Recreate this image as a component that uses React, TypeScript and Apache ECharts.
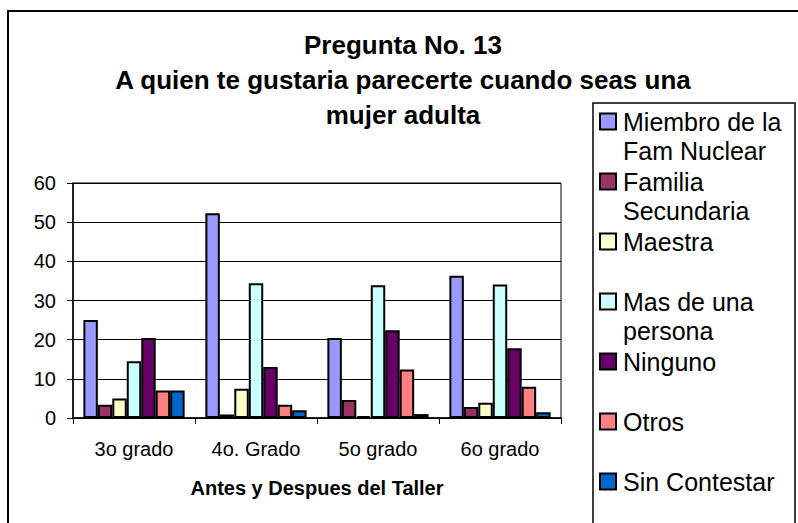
import React, { useEffect, useRef } from "react";
import * as echarts from "echarts";

const categories = ["3o grado", "4o. Grado", "5o grado", "6o grado"];
const seriesNames = [
  "Miembro de la\nFam Nuclear",
  "Familia\nSecundaria",
  "Maestra",
  "Mas de una\npersona",
  "Ninguno",
  "Otros",
  "Sin Contestar",
];
const miembro = [25, 52.3, 20.4, 36.3];
const familia = [3.4, 0.9, 4.6, 2.8];
const maestra = [5, 7.5, 0.5, 3.9];
const masDeUna = [14.5, 34.4, 33.9, 34.1];
const ninguno = [20.4, 13, 22.4, 17.8];
const otros = [7, 3.4, 12.4, 8];
const sinContestar = [7, 2, 1, 1.5];
const seriesValues = [miembro, familia, maestra, masDeUna, ninguno, otros, sinContestar];
const colors = ["#9999FF", "#993366", "#FFFFCC", "#CCFFFF", "#660066", "#FF8080", "#0066CC"];
const yTicks = [0, 10, 20, 30, 40, 50, 60];
const titleText = "Pregunta No. 13\nA quien te gustaria parecerte cuando seas una\nmujer adulta";
const xAxisName = "Antes y Despues del Taller";

const FONT = "'Liberation Sans', Arial, sans-serif";

export default function App() {
  const ref = useRef<HTMLDivElement>(null);
  useEffect(() => {
    if (!ref.current) return;
    const chart = echarts.init(ref.current, undefined, { renderer: "svg" });
    chart.setOption({
      animation: false,
      backgroundColor: "#fff",
      textStyle: { fontFamily: FONT },
      title: {
        text: titleText,
        left: 403,
        top: 27,
        padding: 0,
        textAlign: "center",
        textStyle: {
          fontFamily: FONT,
          fontSize: 26,
          fontWeight: "bold",
          lineHeight: 35,
          color: "#000",
        },
      },
      legend: {
        type: "plain",
        orient: "vertical",
        left: 599,
        top: 78,
        height: 490,
        padding: 0,
        itemGap: -27,
        itemWidth: 16,
        itemHeight: 16,
        icon: "rect",
        data: seriesNames,
        formatter: (name: string) =>
          " \n" + (name.indexOf("\n") >= 0 ? name : name + "\n "),
        itemStyle: { borderColor: "#000", borderWidth: 2 },
        textStyle: {
          fontFamily: FONT,
          fontSize: 25,
          lineHeight: 29,
          color: "#000",
          padding: [0, 0, 0, 2],
        },
      },
      graphic: [
        {
          type: "rect",
          shape: { x: 8, y: 11, width: 800, height: 530 },
          style: { fill: "none", stroke: "#000", lineWidth: 2 },
          z: 100,
        },
        {
          type: "rect",
          shape: { x: 593, y: 103, width: 202, height: 440 },
          style: { fill: "none", stroke: "#000", lineWidth: 1.5 },
          z: 100,
        },
      ],
      grid: {
        left: 73,
        top: 183,
        width: 488,
        height: 235,
        show: true,
        borderColor: "#000",
        borderWidth: 1,
        backgroundColor: "transparent",
      },
      xAxis: {
        type: "category",
        data: categories,
        boundaryGap: true,
        name: xAxisName,
        nameLocation: "middle",
        nameGap: 60,
        nameTextStyle: { fontFamily: FONT, fontSize: 20, fontWeight: "bold", color: "#000" },
        axisLine: { lineStyle: { color: "#000", width: 1.5 } },
        axisTick: { show: true, length: 6, lineStyle: { color: "#000" } },
        axisLabel: { fontFamily: FONT, fontSize: 20, color: "#000", margin: 21 },
      },
      yAxis: {
        type: "value",
        min: yTicks[0],
        max: yTicks[yTicks.length - 1],
        interval: 10,
        axisLine: { show: true, lineStyle: { color: "#000", width: 1.5 } },
        axisTick: { show: true, length: 6, lineStyle: { color: "#000" } },
        axisLabel: { fontFamily: FONT, fontSize: 20, color: "#000", margin: 17 },
        splitLine: { show: true, lineStyle: { color: "#000", width: 1 } },
      },
      series: seriesNames.map((name, i) => ({
        type: "bar",
        name,
        data: seriesValues[i],
        barGap: "0%",
        barCategoryGap: "17%",
        itemStyle: { color: colors[i], borderColor: "#000", borderWidth: 2 },
      })),
    });
    return () => chart.dispose();
  }, []);
  return (
    <div
      ref={ref}
      style={{ position: "fixed", left: 0, top: 0, width: 798, height: 523 }}
    />
  );
}
